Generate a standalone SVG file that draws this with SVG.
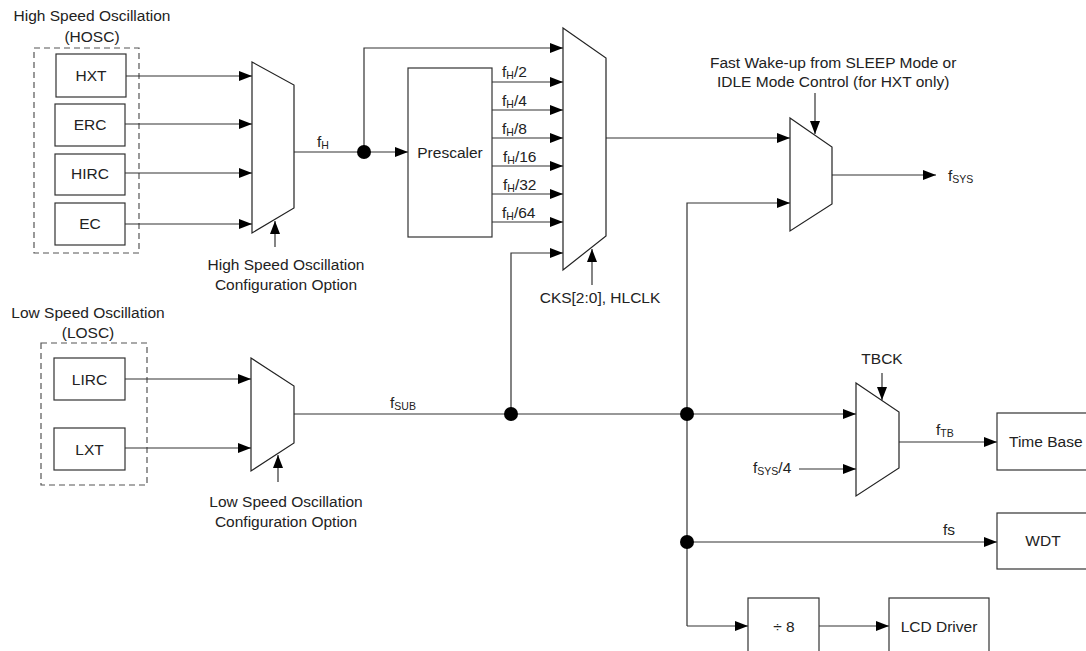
<svg xmlns="http://www.w3.org/2000/svg" width="1086" height="651" viewBox="0 0 1086 651">
<defs>
<marker id="ah" markerUnits="userSpaceOnUse" markerWidth="13" markerHeight="10" refX="13" refY="5" orient="auto">
<path d="M0,0 L13,5 L0,10 z" fill="#000"/>
</marker>
<style>
text{font-family:"Liberation Sans",Arial,sans-serif;font-size:15.5px;fill:#222}
.c{text-anchor:middle}
.s{font-size:10.5px}
.box{fill:#fff;stroke:#333;stroke-width:1.2}
.dash{fill:none;stroke:#555;stroke-width:1.2;stroke-dasharray:6,4}
.mux{fill:#fff;stroke:#222;stroke-width:1.2}
.w{fill:none;stroke:#333;stroke-width:1.2}
.a{marker-end:url(#ah)}
</style>
</defs>
<rect width="1086" height="651" fill="#fff"/>

<g id="labels">
<text class="c" x="92" y="21">High Speed Oscillation</text>
<text class="c" x="92" y="42">(HOSC)</text>
<text class="c" x="88" y="318">Low Speed Oscillation</text>
<text class="c" x="88" y="338">(LOSC)</text>
<text class="c" x="286" y="270">High Speed Oscillation</text>
<text class="c" x="286" y="290">Configuration Option</text>
<text class="c" x="286" y="507">Low Speed Oscillation</text>
<text class="c" x="286" y="527">Configuration Option</text>
<text class="c" x="600" y="303">CKS[2:0], HLCLK</text>
<text x="710" y="68">Fast Wake-up from SLEEP Mode or</text>
<text x="717" y="87">IDLE Mode Control (for HXT only)</text>
<text class="c" x="882" y="364">TBCK</text>
</g>

<g id="hosc"><rect class="dash" x="34" y="48" width="105" height="205"/></g>
<g id="losc"><rect class="dash" x="41" y="343" width="106" height="142"/></g>

<g id="connectors">
<path class="w a" d="M126,76 H252"/>
<path class="w a" d="M125,124 H252"/>
<path class="w a" d="M125,173 H252"/>
<path class="w a" d="M125,224 H252"/>
<path class="w a" d="M275,247 V221"/>
<path class="w" d="M294,152 H364"/>
<path class="w a" d="M364,152 H408"/>
<path class="w a" d="M364,152 V48 H563"/>
<path class="w a" d="M492,82 H563"/>
<path class="w a" d="M492,110 H563"/>
<path class="w a" d="M492,138 H563"/>
<path class="w a" d="M492,166 H563"/>
<path class="w a" d="M492,194 H563"/>
<path class="w a" d="M492,222 H563"/>
<path class="w a" d="M511,414 V253 H563"/>
<path class="w a" d="M592,285 V249"/>
<path class="w a" d="M606,138 H790"/>
<path class="w a" d="M815,93 V134"/>
<path class="w a" d="M687,626 V203 H790"/>
<path class="w a" d="M832,175 H936"/>
<path class="w a" d="M125,379 H251"/>
<path class="w a" d="M125,448 H251"/>
<path class="w a" d="M278,482 V455"/>
<path class="w a" d="M294,414 H856"/>
<path class="w a" d="M882,373 V400"/>
<path class="w a" d="M799,469 H856"/>
<path class="w a" d="M899,442 H997"/>
<path class="w a" d="M687,542 H997"/>
<path class="w a" d="M687,626 H748"/>
<path class="w a" d="M819,626 H889"/>
<circle cx="364" cy="152" r="7" fill="#000"/>
<circle cx="511" cy="414" r="7" fill="#000"/>
<circle cx="687" cy="414" r="7" fill="#000"/>
<circle cx="687" cy="542" r="7" fill="#000"/>
<text x="317" y="147">f<tspan class="s" dy="2">H</tspan></text>
<text x="502" y="77">f<tspan class="s" dy="2">H</tspan><tspan dy="-2">/2</tspan></text>
<text x="502" y="106">f<tspan class="s" dy="2">H</tspan><tspan dy="-2">/4</tspan></text>
<text x="502" y="134">f<tspan class="s" dy="2">H</tspan><tspan dy="-2">/8</tspan></text>
<text x="503" y="162">f<tspan class="s" dy="2">H</tspan><tspan dy="-2">/16</tspan></text>
<text x="503" y="190">f<tspan class="s" dy="2">H</tspan><tspan dy="-2">/32</tspan></text>
<text x="502" y="218">f<tspan class="s" dy="2">H</tspan><tspan dy="-2">/64</tspan></text>
<text x="948" y="181">f<tspan class="s" dy="2">SYS</tspan></text>
<text x="390" y="408">f<tspan class="s" dy="2">SUB</tspan></text>
<text x="936" y="435">f<tspan class="s" dy="2">TB</tspan></text>
<text x="753" y="473">f<tspan class="s" dy="2">SYS</tspan><tspan dy="-2">/4</tspan></text>
<text x="943" y="535">fs</text>
</g>

<g id="HXT"><rect class="box" x="56" y="54" width="70" height="43"/><text class="c" x="91" y="81">HXT</text></g>
<g id="ERC"><rect class="box" x="55" y="104" width="70" height="42"/><text class="c" x="90" y="130">ERC</text></g>
<g id="HIRC"><rect class="box" x="55" y="154" width="70" height="41"/><text class="c" x="90" y="179">HIRC</text></g>
<g id="EC"><rect class="box" x="55" y="203" width="70" height="42"/><text class="c" x="90" y="229">EC</text></g>
<g id="LIRC"><rect class="box" x="54" y="358" width="71" height="42"/><text class="c" x="89.5" y="385">LIRC</text></g>
<g id="LXT"><rect class="box" x="54" y="428" width="71" height="42"/><text class="c" x="89.5" y="455">LXT</text></g>

<g id="mux-hosc"><polygon class="mux" points="252,62 294,85 294,208 252,233"/></g>
<g id="mux-clk"><polygon class="mux" points="563,28 606,58 606,236 563,270"/></g>
<g id="mux-wake"><polygon class="mux" points="790,118 832,147 832,204 790,231"/></g>
<g id="mux-losc"><polygon class="mux" points="251,358 294,386 294,443 251,471"/></g>
<g id="mux-tb"><polygon class="mux" points="856,383 899,412 899,468 856,496"/></g>

<g id="prescaler"><rect class="box" x="408" y="68" width="84" height="169"/><text class="c" x="450" y="158">Prescaler</text></g>
<g id="timebase"><rect class="box" x="997" y="413" width="96" height="57"/><text x="1009" y="447">Time Base</text></g>
<g id="wdt"><rect class="box" x="997" y="513" width="96" height="56"/><text class="c" x="1043" y="546">WDT</text></g>
<g id="div8"><rect class="box" x="748" y="598" width="71" height="60"/><text class="c" x="784" y="632">÷ 8</text></g>
<g id="lcd"><rect class="box" x="889" y="598" width="100" height="60"/><text class="c" x="939" y="632">LCD Driver</text></g>
</svg>
